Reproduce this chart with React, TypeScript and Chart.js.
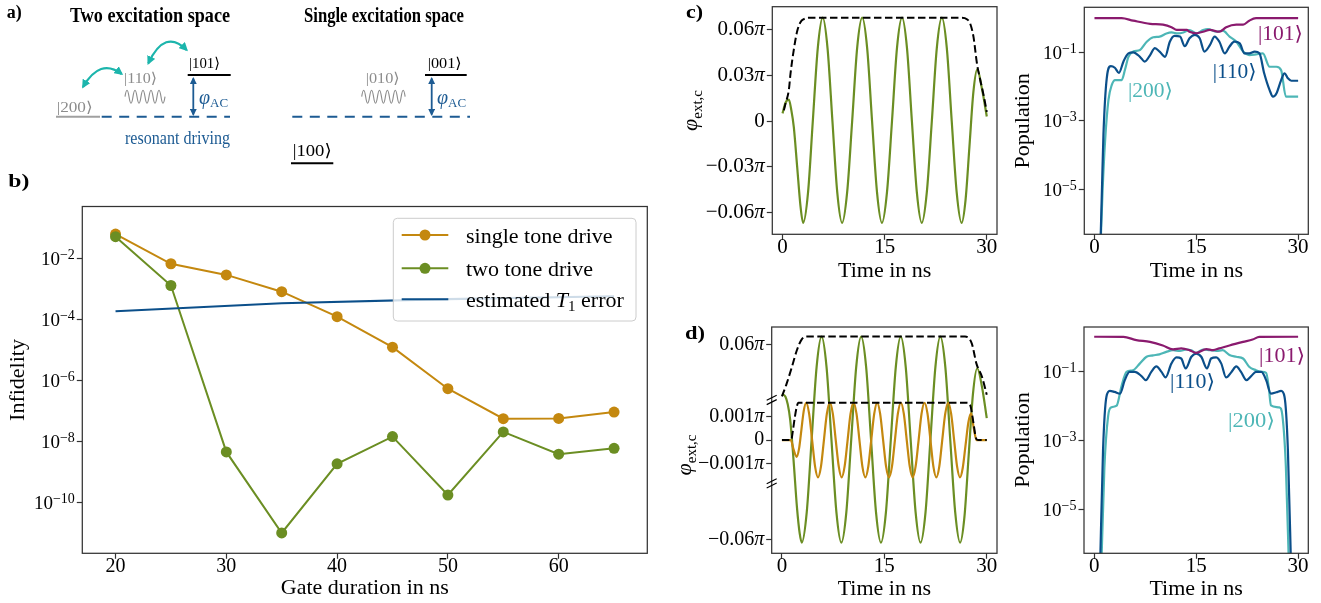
import React, { useEffect, useRef } from "react";
import { Chart, registerables } from "chart.js";

Chart.register(...registerables);

const SERIF = "'Liberation Serif', 'Times New Roman', 'DejaVu Serif', serif";
const PAGE_W = 1321;
const PAGE_H = 603;

const C_ORANGE = "#c4880f";
const C_GREEN = "#6b8e23";
const C_BLUE = "#0b4f8a";
const C_PURPLE = "#8a1a6e";
const C_TEAL = "#4db6b6";
const C_SPINE = "#333333";
const C_LEVEL_BLUE = "#1d5b93";
const C_GRAY = "#8c8c8c";
const C_CYAN = "#1cb5ac";

// ---------- panel b : infidelity vs gate duration ----------
const gateDurations = [20, 25, 30, 35, 40, 45, 50, 55, 60, 65];
const singleToneInfidelity = [6.1e-2, 6.5e-3, 2.8e-3, 7.9e-4, 1.2e-4, 1.2e-5, 5.2e-7, 5.4e-8, 5.5e-8, 8.9e-8];
const twoToneInfidelity = [5.0e-2, 1.26e-3, 4.4e-9, 9.7e-12, 1.8e-9, 1.4e-8, 1.7e-10, 2.0e-8, 3.7e-9, 5.8e-9];
const t1Durations = [20, 35, 50, 65];
const t1Error = [1.8e-4, 3.3e-4, 4.5e-4, 5.6e-4];
const gateTicks = [20, 30, 40, 50, 60];
const infidelityTicks = [1e-10, 1e-8, 1e-6, 1e-4, 1e-2];
const legendLabels = ["single tone drive", "two tone drive", "estimated T1 error"];

// ---------- panel c : two tone pulse ----------
const phaseTimeC = [0, 0.45, 0.93, 1.3, 1.66, 2.15, 2.64, 3.03, 3.75, 4.45, 5.18, 5.9, 6.61, 7.33, 8.04, 8.75, 9.49, 10.23, 10.96, 11.7, 12.43, 13.15, 13.88, 14.6, 15.34, 16.08, 16.81, 17.55, 18.28, 19.0, 19.73, 20.45, 21.19, 21.93, 22.66, 23.4, 24.13, 24.85, 25.58, 26.3, 26.88, 27.45, 28.03, 28.6, 29.3, 30];
const twoTonePhaseC = [0.005, 0.012, 0.014, 0.007, -0.004, -0.03, -0.056, -0.067, -0.047, 0.0, 0.048, 0.068, 0.048, 0.0, -0.047, -0.067, -0.047, 0.0, 0.048, 0.068, 0.048, 0.0, -0.047, -0.067, -0.047, 0.0, 0.048, 0.068, 0.048, 0.0, -0.047, -0.067, -0.047, 0.0, 0.048, 0.068, 0.048, 0.0, -0.047, -0.067, -0.052, -0.017, 0.019, 0.034, 0.021, 0.003];
const envTimeC = [0.2, 0.45, 0.93, 1.17, 1.66, 2.15, 2.64, 3.13, 3.86, 26.35, 27.08, 27.57, 28.06, 28.55, 29.04, 29.53, 30];
const envelopeC = [0.007, 0.0116, 0.0204, 0.031, 0.047, 0.059, 0.065, 0.067, 0.068, 0.068, 0.067, 0.064, 0.055, 0.038, 0.027, 0.017, 0.006];
const phaseTicksC = [-0.06, -0.03, 0, 0.03, 0.06];

// population, panel c
const popTime101C = [0, 4, 5.7, 8.2, 10.1, 11.35, 12.1, 13.6, 14.0, 15.0, 16.0, 17.0, 18.4, 19.4, 20.9, 21.9, 22.8, 23.8, 30];
const pop101C = [1.0, 0.99, 0.84, 0.68, 0.64, 0.54, 0.45, 0.45, 0.4, 0.36, 0.4, 0.45, 0.4, 0.54, 0.64, 0.64, 0.84, 0.99, 1.0];
const popTime200C = [0.83, 1.2, 1.57, 2.06, 2.55, 3.04, 4.0, 4.5, 5.0, 5.7, 6.7, 7.7, 8.66, 9.6, 10.6, 11.35, 12.3, 13.1, 14.0, 15.0, 16.0, 16.7, 18.0, 18.9, 19.9, 20.9, 21.9, 22.8, 23.8, 24.8, 25.8, 26.8, 27.5, 28.2, 28.7, 30];
const pop200C = [1e-7, 1e-5, 2.75e-4, 4.1e-3, 0.0112, 0.0155, 0.0155, 0.0316, 0.074, 0.105, 0.117, 0.204, 0.275, 0.288, 0.355, 0.38, 0.355, 0.38, 0.447, 0.359, 0.447, 0.479, 0.398, 0.427, 0.288, 0.204, 0.105, 0.083, 0.087, 0.093, 0.038, 0.038, 0.03, 0.0051, 0.0051, 0.0051];
const popTime110C = [0.83, 1.1, 1.32, 1.81, 2.4, 3.0, 3.6, 4.3, 5.0, 5.7, 6.7, 7.4, 8.2, 8.9, 9.6, 10.4, 11.1, 11.8, 12.6, 13.3, 14.0, 14.8, 15.5, 16.2, 17.0, 17.7, 18.4, 19.2, 19.9, 20.6, 21.4, 22.1, 22.8, 23.6, 24.3, 25.0, 25.8, 26.3, 26.8, 27.5, 28.0, 28.5, 29.0, 30];
const pop110C = [1e-7, 1e-5, 4.0e-4, 0.0178, 0.0398, 0.0355, 0.0251, 0.0562, 0.0933, 0.1, 0.0741, 0.0537, 0.0832, 0.132, 0.105, 0.0741, 0.204, 0.302, 0.288, 0.151, 0.257, 0.324, 0.257, 0.105, 0.162, 0.288, 0.204, 0.0933, 0.148, 0.204, 0.182, 0.0933, 0.0933, 0.105, 0.0933, 0.0245, 0.0079, 0.0051, 0.0063, 0.0155, 0.0245, 0.0174, 0.0148, 0.0148];

// ---------- panel d : two tone + single tone pulses ----------
const phaseTimeD = [0, 0.5, 1.2, 1.7, 2.2, 2.6, 2.9, 3.63, 4.35, 5.08, 5.8, 6.53, 7.25, 7.98, 8.7, 9.43, 10.15, 10.88, 11.6, 12.33, 13.05, 13.78, 14.5, 15.23, 15.95, 16.68, 17.4, 18.13, 18.85, 19.58, 20.3, 21.03, 21.75, 22.48, 23.2, 23.93, 24.65, 25.38, 26.1, 26.73, 27.35, 27.98, 28.6, 29.3, 30];
const twoTonePhaseD = [0.0294, 0.028, 0.014, -0.011, -0.04, -0.056, -0.0616, -0.0431, 0.0016, 0.0462, 0.0647, 0.0462, 0.0016, -0.0431, -0.0616, -0.0431, 0.0016, 0.0462, 0.0647, 0.0462, 0.0016, -0.0431, -0.0616, -0.0431, 0.0016, 0.0462, 0.0647, 0.0462, 0.0016, -0.0431, -0.0616, -0.0431, 0.0016, 0.0462, 0.0647, 0.0462, 0.0016, -0.0431, -0.0616, -0.0459, -0.0082, 0.0296, 0.0453, 0.034, 0.0147];
const envTimeD = [0, 0.7, 1.45, 2.2, 2.9, 3.6, 26.8, 27.8, 28.5, 29.3, 30];
const envelopeD = [0.028, 0.036, 0.046, 0.0565, 0.063, 0.0647, 0.0647, 0.0606, 0.048, 0.04, 0.029];
const singleTimeD = [0, 0.7, 1.3, 1.7, 2.15, 2.5, 2.85, 3.2, 3.55,
  3.98, 4.42, 4.85, 5.28, 5.72, 6.15, 6.58, 7.02, 7.45, 7.88, 8.32, 8.75, 9.18, 9.62, 10.05, 10.48,
  10.92, 11.35, 11.78, 12.22, 12.65, 13.08, 13.52, 13.95, 14.38, 14.82, 15.25, 15.68, 16.12, 16.55, 16.98, 17.42,
  17.85, 18.28, 18.72, 19.15, 19.58, 20.02, 20.45, 20.88, 21.32, 21.75, 22.18, 22.62, 23.05, 23.48, 23.92, 24.35,
  24.78, 25.22, 25.65, 26.08, 26.48, 26.89, 27.3, 27.7, 28.1, 28.5, 29.2, 30];
const singleTonePhaseD = [0, 0, 0, -0.0004, -0.00072, -0.00038, 0.00044, 0.00126, 0.0016,
  0.00113, 0, -0.00113, -0.0016, -0.00113, 0, 0.00113, 0.0016, 0.00113, 0, -0.00113, -0.0016, -0.00113, 0, 0.00113, 0.0016,
  0.00113, 0, -0.00113, -0.0016, -0.00113, 0, 0.00113, 0.0016, 0.00113, 0, -0.00113, -0.0016, -0.00113, 0, 0.00113, 0.0016,
  0.00113, 0, -0.00113, -0.0016, -0.00113, 0, 0.00113, 0.0016, 0.00113, 0, -0.00113, -0.0016, -0.00113, 0, 0.00113, 0.0016,
  0.00113, 0, -0.00113, -0.0016, -0.0012, -0.00023, 0.00074, 0.00114, 0.0005, 0, 0, 0];
const envTimeSingleD = [0, 1.35, 1.65, 1.9, 2.15, 2.4, 27.1, 27.57, 28.06, 28.4, 28.7, 30];
const envelopeSingleD = [0, 0, 0.0005, 0.001, 0.0014, 0.0016, 0.0016, 0.0015, 0.00072, 0.0001, 0, 0];
const phaseTicksLargeD = [-0.06, 0.06];
const phaseTicksSmallD = [-0.001, 0, 0.001];
const axisBreakValues = [0.00172, -0.00186];

// population, panel d
const popTime101D = [0, 4.3, 6.2, 8.2, 10.1, 11.6, 12.8, 14.0, 15.0, 16.5, 17.5, 18.4, 19.9, 21.9, 23.3, 24.3, 30];
const pop101D = [1.0, 0.99, 0.8, 0.71, 0.56, 0.43, 0.46, 0.41, 0.34, 0.44, 0.41, 0.46, 0.56, 0.71, 0.83, 0.99, 1.0];
const popTime200D = [1.0, 1.5, 2.05, 2.5, 3.3, 4.0, 4.75, 5.7, 6.7, 7.7, 8.66, 9.6, 10.6, 11.6, 12.6, 13.55, 14.3, 15.0, 16.0, 17.0, 18.0, 18.9, 19.9, 20.9, 21.9, 22.8, 23.8, 24.6, 25.3, 25.7, 26.0, 27.25, 27.7, 28.2, 28.7];
const pop200D = [1e-7, 1.58e-4, 5.0e-3, 8.9e-3, 0.01, 0.0355, 0.0955, 0.107, 0.166, 0.263, 0.288, 0.309, 0.363, 0.407, 0.389, 0.427, 0.407, 0.339, 0.427, 0.407, 0.389, 0.407, 0.295, 0.263, 0.234, 0.135, 0.107, 0.0955, 0.0891, 0.0316, 0.0102, 0.0089, 0.005, 1.7e-4, 1e-7];
const popTime110D = [0.83, 1.3, 1.8, 2.3, 3.0, 3.8, 4.5, 5.2, 6.0, 6.95, 7.6, 8.4, 9.15, 9.9, 10.5, 11.35, 12.1, 12.8, 13.45, 14.3, 15.0, 15.75, 16.6, 17.2, 17.95, 18.7, 19.4, 20.2, 20.9, 21.6, 22.4, 23.1, 23.8, 24.6, 25.3, 26.0, 26.8, 27.5, 28.0, 28.5, 29.0];
const pop110D = [1e-7, 5.1e-4, 0.0182, 0.0269, 0.0251, 0.0224, 0.055, 0.0955, 0.0955, 0.0724, 0.055, 0.0955, 0.138, 0.0955, 0.066, 0.166, 0.251, 0.234, 0.12, 0.263, 0.324, 0.263, 0.12, 0.234, 0.251, 0.166, 0.066, 0.0955, 0.138, 0.0955, 0.055, 0.0724, 0.0955, 0.0955, 0.055, 0.0224, 0.0245, 0.0269, 0.0182, 5.1e-4, 1e-7];

const timeTicks = [0, 15, 30];
const populationTicks = [1e-5, 1e-3, 1e-1];

// ---------- helpers ----------
const xy = (xs: number[], ys: number[]) => xs.map((x, i) => ({ x, y: ys[i] }));

const Y_AXIS_W = 80;
const X_AXIS_H = 40;
type Box = { L: number; T: number; R: number; B: number };
const layoutFor = (b: Box) => ({
  padding: { left: b.L - Y_AXIS_W, top: b.T, right: PAGE_W - b.R, bottom: PAGE_H - b.B - X_AXIS_H },
});
const zeroPad = (s: any) => {
  s.paddingTop = 0; s.paddingBottom = 0; s.paddingLeft = 0; s.paddingRight = 0;
};
const tickGrid = {
  display: true, drawOnChartArea: false, drawTicks: true, tickLength: 5.5, tickWidth: 1.2,
  tickColor: C_SPINE, color: C_SPINE,
};

function xAxis(min: number, max: number, ticks: number[], size: number, pad: number) {
  return {
    type: "linear", position: "bottom", min, max,
    afterBuildTicks: (s: any) => { s.ticks = ticks.map((v) => ({ value: v })); },
    afterFit: (s: any) => { s.height = X_AXIS_H; zeroPad(s); },
    grid: tickGrid, border: { display: false },
    ticks: {
      autoSkip: false, maxRotation: 0, minRotation: 0, padding: pad, color: "#000",
      font: { family: SERIF, size, lineHeight: 1 }, callback: (v: any) => String(v),
    },
  };
}
// linear phase axis: labels (with italic pi) are drawn by the decor plugin from the scale ticks
function yLinear(min: number, max: number, ticks: number[], width: number, weight: number) {
  return {
    type: "linear", position: "left", min, max, weight,
    afterBuildTicks: (s: any) => { s.ticks = ticks.map((v) => ({ value: v })); },
    afterFit: (s: any) => { s.width = width; zeroPad(s); },
    grid: tickGrid, border: { display: false },
    ticks: { autoSkip: false, display: false },
  };
}
function yLog(min: number, max: number, ticks: number[]) {
  return {
    type: "logarithmic", position: "left", min, max,
    afterBuildTicks: (s: any) => { s.ticks = ticks.map((v) => ({ value: v })); },
    afterFit: (s: any) => { s.width = Y_AXIS_W; zeroPad(s); },
    grid: tickGrid, border: { display: false },
    ticks: { autoSkip: false, padding: 2, callback: () => "" },
  };
}

function drawLogLabels(chart: any, id: string) {
  const s = chart.scales[id];
  const ctx = chart.ctx;
  ctx.save();
  ctx.fillStyle = "#000";
  ctx.textBaseline = "alphabetic";
  ctx.textAlign = "left";
  const xr = chart.chartArea.left - 7.5;
  for (const t of s.ticks) {
    const y = s.getPixelForValue(t.value);
    const e = Math.round(Math.log10(t.value));
    const sup = (e < 0 ? "\u2212" : "") + Math.abs(e);
    ctx.font = `14px ${SERIF}`;
    const ws = ctx.measureText(sup).width;
    ctx.font = `19px ${SERIF}`;
    const wb = ctx.measureText("10").width;
    ctx.fillText("10", xr - ws - wb, y + 6.5);
    ctx.font = `14px ${SERIF}`;
    ctx.fillText(sup, xr - ws, y + 0.5);
  }
  ctx.restore();
}

function drawPiLabels(chart: any, ids: string[], size: number) {
  const ctx = chart.ctx;
  const xr = chart.chartArea.left - 7.5;
  ctx.save();
  ctx.fillStyle = "#000";
  ctx.textBaseline = "middle";
  ctx.textAlign = "left";
  for (const id of ids) {
    const s = chart.scales[id];
    for (const t of s.ticks) {
      const v = t.value;
      const y = s.getPixelForValue(v);
      if (Math.abs(v) < 1e-12) {
        ctx.font = `${size}px ${SERIF}`;
        const w0 = ctx.measureText("0").width;
        ctx.fillText("0", xr - w0, y);
        continue;
      }
      const num = (v < 0 ? "\u2212" : "") + String(Math.abs(v));
      ctx.font = `italic ${size}px ${SERIF}`;
      const wp = ctx.measureText("\u03c0").width;
      ctx.font = `${size}px ${SERIF}`;
      const wn = ctx.measureText(num).width;
      ctx.fillText(num, xr - wp - wn, y);
      ctx.font = `italic ${size}px ${SERIF}`;
      ctx.fillText("\u03c0", xr - wp, y);
    }
  }
  ctx.restore();
}

function drawLegendB(chart: any) {
  const ctx = chart.ctx;
  const a = chart.chartArea;
  const bw = 242.7, bh = 102.7;
  const bx = a.right - 11.3 - bw, by = a.top + 11.8;
  ctx.save();
  ctx.beginPath();
  ctx.roundRect(bx, by, bw, bh, 4);
  ctx.fillStyle = "rgba(255,255,255,0.8)";
  ctx.fill();
  ctx.strokeStyle = "#cccccc";
  ctx.lineWidth = 1;
  ctx.stroke();
  const rowY = [by + 16.7, by + 50, by + 81];
  const ds = chart.data.datasets;
  rowY.forEach((ry, i) => {
    const d = ds[i];
    ctx.strokeStyle = d.borderColor;
    ctx.lineWidth = 2;
    ctx.beginPath();
    ctx.moveTo(bx + 8.4, ry);
    ctx.lineTo(bx + 55, ry);
    ctx.stroke();
    if (d.pointRadius > 0) {
      ctx.fillStyle = d.borderColor;
      ctx.beginPath();
      ctx.arc(bx + 31.7, ry, 5.5, 0, Math.PI * 2);
      ctx.fill();
    }
  });
  ctx.fillStyle = "#000";
  ctx.textBaseline = "alphabetic";
  const tx = bx + 72.7;
  ctx.font = `22px ${SERIF}`;
  ctx.fillText(legendLabels[0], tx, rowY[0] + 7.5);
  ctx.fillText(legendLabels[1], tx, rowY[1] + 7.5);
  let x = tx;
  const by3 = rowY[2] + 7.5;
  ctx.font = `22px ${SERIF}`;
  ctx.fillText("estimated ", x, by3);
  x += ctx.measureText("estimated ").width;
  ctx.font = `italic 22px ${SERIF}`;
  ctx.fillText("T", x, by3);
  x += ctx.measureText("T").width;
  ctx.font = `15px ${SERIF}`;
  ctx.fillText("1", x, by3 + 4);
  x += ctx.measureText("1").width;
  ctx.font = `22px ${SERIF}`;
  ctx.fillText(" error", x, by3);
  ctx.restore();
}

function drawBreaks(chart: any) {
  const ctx = chart.ctx;
  const s = chart.scales.y2;
  const x = chart.chartArea.left;
  ctx.save();
  ctx.strokeStyle = "#000";
  ctx.lineWidth = 1.2;
  for (const v of axisBreakValues) {
    const y = s.getPixelForValue(v);
    for (const d of [-2.2, 2.2]) {
      ctx.beginPath();
      ctx.moveTo(x - 5, y + d + 2.5);
      ctx.lineTo(x + 5, y + d - 2.5);
      ctx.stroke();
    }
  }
  ctx.restore();
}

function decor(opts: { logAxis?: string; piAxes?: string[]; piSize?: number; legend?: boolean; breaks?: boolean }) {
  return {
    id: "decor",
    afterDatasetsDraw(chart: any) {
      const { ctx, chartArea: a } = chart;
      ctx.save();
      ctx.strokeStyle = C_SPINE;
      ctx.lineWidth = 1.25;
      ctx.strokeRect(a.left, a.top, a.right - a.left, a.bottom - a.top);
      ctx.restore();
      if (opts.logAxis) drawLogLabels(chart, opts.logAxis);
      if (opts.piAxes) drawPiLabels(chart, opts.piAxes, opts.piSize || 21);
      if (opts.breaks) drawBreaks(chart);
      if (opts.legend) drawLegendB(chart);
    },
  };
}

const baseOptions = (box: Box, scales: any) => ({
  responsive: false,
  animation: false,
  events: [],
  devicePixelRatio: 1,
  layout: layoutFor(box),
  scales,
  plugins: { legend: { display: false }, tooltip: { enabled: false }, title: { display: false } },
});

const smoothLine = (data: any, color: string, width: number, order: number, extra: any = {}) => ({
  data, borderColor: color, backgroundColor: color, borderWidth: width, pointRadius: 0,
  cubicInterpolationMode: "monotone", fill: false, order, borderJoinStyle: "round", ...extra,
});

// ---------- chart builders ----------
function buildInfidelity() {
  const box = { L: 82.3, T: 206.5, R: 647.3, B: 553.3 };
  return {
    type: "line",
    data: {
      datasets: [
        { label: legendLabels[0], data: xy(gateDurations, singleToneInfidelity), borderColor: C_ORANGE, backgroundColor: C_ORANGE,
          pointBackgroundColor: C_ORANGE, pointBorderColor: C_ORANGE, pointRadius: 5.5, pointBorderWidth: 0, borderWidth: 2, tension: 0, order: 3 },
        { label: legendLabels[1], data: xy(gateDurations, twoToneInfidelity), borderColor: C_GREEN, backgroundColor: C_GREEN,
          pointBackgroundColor: C_GREEN, pointBorderColor: C_GREEN, pointRadius: 5.5, pointBorderWidth: 0, borderWidth: 2, tension: 0, order: 2 },
        { label: legendLabels[2], data: xy(t1Durations, t1Error), borderColor: C_BLUE, backgroundColor: C_BLUE,
          pointRadius: 0, borderWidth: 2.2, tension: 0, order: 1 },
      ],
    },
    options: baseOptions(box, {
      x: xAxis(17, 68, gateTicks, 20, -2),
      y: yLog(2.09e-12, 0.49, infidelityTicks),
    }),
    plugins: [decor({ logAxis: "y", legend: true })],
  };
}

function buildPhaseC() {
  const box = { L: 772.3, T: 6.7, R: 997, B: 234.3 };
  return {
    type: "line",
    data: {
      datasets: [
        smoothLine(xy(phaseTimeC, twoTonePhaseC), C_GREEN, 2.2, 2),
        smoothLine(xy(envTimeC, envelopeC), "#000", 2, 1, { borderDash: [7.5, 3.5] }),
      ],
    },
    options: baseOptions(box, {
      x: xAxis(-1.5, 31.5, timeTicks, 21, -2.5),
      y: yLinear(-0.07454, 0.0752, phaseTicksC, Y_AXIS_W, 0),
    }),
    plugins: [decor({ piAxes: ["y"], piSize: 21 })],
  };
}

function buildPopulationC() {
  const box = { L: 1084.3, T: 7.3, R: 1308.3, B: 234.3 };
  return {
    type: "line",
    data: {
      datasets: [
        smoothLine(xy(popTime200C, pop200C), C_TEAL, 2.2, 3),
        smoothLine(xy(popTime110C, pop110C), C_BLUE, 2.2, 2),
        smoothLine(xy(popTime101C, pop101C), C_PURPLE, 2.2, 1),
      ],
    },
    options: baseOptions(box, {
      x: xAxis(-1.5, 31.5, timeTicks, 21, -2.5),
      y: yLog(4.9e-7, 2.06, populationTicks),
    }),
    plugins: [decor({ logAxis: "y" })],
  };
}

function buildPhaseD() {
  const box = { L: 771.7, T: 327, R: 997, B: 553.3 };
  return {
    type: "line",
    data: {
      datasets: [
        smoothLine(xy(phaseTimeD, twoTonePhaseD), C_GREEN, 2.2, 4, { yAxisID: "y" }),
        smoothLine(xy(singleTimeD, singleTonePhaseD), C_ORANGE, 2.2, 3, { yAxisID: "y2" }),
        smoothLine(xy(envTimeD, envelopeD), "#000", 2, 2, { yAxisID: "y", borderDash: [7.5, 3.5] }),
        smoothLine(xy(envTimeSingleD, envelopeSingleD), "#000", 2, 1, { yAxisID: "y2", borderDash: [7.5, 3.5] }),
      ],
    },
    options: baseOptions(box, {
      x: xAxis(-1.5, 31.5, timeTicks, 21, -2.5),
      y: yLinear(-0.0682, 0.0706, phaseTicksLargeD, Y_AXIS_W, 1),
      y2: yLinear(-0.00486, 0.00485, phaseTicksSmallD, 0, 0),
    }),
    plugins: [decor({ piAxes: ["y", "y2"], piSize: 20, breaks: true })],
  };
}

function buildPopulationD() {
  const box = { L: 1084, T: 327, R: 1308.3, B: 553.3 };
  return {
    type: "line",
    data: {
      datasets: [
        smoothLine(xy(popTime200D, pop200D), C_TEAL, 2.2, 3),
        smoothLine(xy(popTime110D, pop110D), C_BLUE, 2.2, 2),
        smoothLine(xy(popTime101D, pop101D), C_PURPLE, 2.2, 1),
      ],
    },
    options: baseOptions(box, {
      x: xAxis(-1.5, 31.5, timeTicks, 21, -2.5),
      y: yLog(5.2e-7, 1.92, populationTicks),
    }),
    plugins: [decor({ logAxis: "y" })],
  };
}

function ChartCanvas({ build }: { build: () => any }) {
  const ref = useRef<HTMLCanvasElement | null>(null);
  useEffect(() => {
    const chart = new Chart(ref.current as HTMLCanvasElement, build());
    return () => chart.destroy();
  }, []);
  return (
    <canvas
      ref={ref}
      width={PAGE_W}
      height={PAGE_H}
      style={{ position: "absolute", left: 0, top: 0, width: PAGE_W, height: PAGE_H }}
    />
  );
}

// ---------- SVG overlay: diagram (panel a), labels, axis titles ----------
const Ket = ({ x, y, s, fill, len, size = 15 }: any) => (
  <text x={x} y={y} fill={fill} fontSize={size} textLength={len} lengthAdjust="spacingAndGlyphs">{s}</text>
);
const wavePath = (x0: number, y: number, n: number, step: number, amp: number) => {
  let d = `M${x0},${y} q${step / 2},${-amp * 2} ${step},0`;
  for (let i = 1; i < n; i++) d += ` t${step},0`;
  return d;
};
const Phi = ({ x, y, fill }: any) => (
  <text x={x} y={y} fill={fill} fontSize={20}>
    <tspan fontStyle="italic">{"\u03c6"}</tspan>
    <tspan fontSize={13} dy={2.5}>AC</tspan>
  </text>
);
const DoubleArrow = ({ x }: any) => (
  <line x1={x} y1={78.5} x2={x} y2={114.5} stroke={C_LEVEL_BLUE} strokeWidth={1.8}
    markerStart="url(#blueHead)" markerEnd="url(#blueHead)" />
);
const PhiExt = ({ x, y }: any) => (
  <text transform={`translate(${x},${y}) rotate(-90)`} textAnchor="middle" fontSize={22}>
    <tspan fontStyle="italic">{"\u03c6"}</tspan>
    <tspan fontSize={15} dy={4.5}>ext,c</tspan>
  </text>
);
const Rot = ({ x, y, s }: any) => (
  <text transform={`translate(${x},${y}) rotate(-90)`} textAnchor="middle" fontSize={22}>{s}</text>
);
const Hz = ({ x, y, s }: any) => (
  <text x={x} y={y} textAnchor="middle" fontSize={22}>{s}</text>
);

function Overlay() {
  return (
    <svg
      width={PAGE_W}
      height={PAGE_H}
      style={{ position: "absolute", left: 0, top: 0, pointerEvents: "none" }}
      fontFamily="'Liberation Serif', 'Times New Roman', 'DejaVu Serif', serif"
    >
      <defs>
        <marker id="cyanHead" viewBox="0 0 10 10" refX="8" refY="5" markerWidth="4" markerHeight="4" orient="auto-start-reverse">
          <path d="M0,0 L10,5 L0,10 z" fill={C_CYAN} />
        </marker>
        <marker id="blueHead" viewBox="0 0 10 10" refX="8" refY="5" markerWidth="4" markerHeight="4" orient="auto-start-reverse">
          <path d="M0,0 L10,5 L0,10 z" fill={C_LEVEL_BLUE} />
        </marker>
      </defs>

      {/* panel letters */}
      <text x={6.7} y={17.5} fontSize={18} fontWeight="bold" textLength={15} lengthAdjust="spacingAndGlyphs">a)</text>
      <text x={8.3} y={186.7} fontSize={19} fontWeight="bold" textLength={21} lengthAdjust="spacingAndGlyphs">b)</text>
      <text x={686} y={17.5} fontSize={18} fontWeight="bold" textLength={17} lengthAdjust="spacingAndGlyphs">c)</text>
      <text x={685} y={338.5} fontSize={18} fontWeight="bold" textLength={20} lengthAdjust="spacingAndGlyphs">d)</text>

      {/* panel a headers */}
      <text x={70} y={21.7} fontSize={21} fontWeight="bold" textLength={160} lengthAdjust="spacingAndGlyphs">Two excitation space</text>
      <text x={304} y={21.7} fontSize={21} fontWeight="bold" textLength={160} lengthAdjust="spacingAndGlyphs">Single excitation space</text>

      {/* two excitation space */}
      <Ket x={56.7} y={111.7} s={"|200\u27e9"} fill={C_GRAY} len={36} />
      <line x1={56} y1={116.7} x2={100} y2={116.7} stroke="#a0a0a0" strokeWidth={2} />
      <Ket x={124} y={83.3} s={"|110\u27e9"} fill={C_GRAY} len={33} />
      <path d={wavePath(125, 96.7, 10, 4, 6.5)} stroke={C_GRAY} strokeWidth={1.1} fill="none" />
      <Ket x={189} y={68.3} s={"|101\u27e9"} fill="#000" len={31} />
      <line x1={187.7} y1={75} x2={230.7} y2={75} stroke="#000" strokeWidth={2} />
      <line x1={101.7} y1={116.7} x2={230} y2={116.7} stroke={C_LEVEL_BLUE} strokeWidth={2} strokeDasharray="10 7.5" />
      <DoubleArrow x={193.3} />
      <Phi x={199} y={104} fill={C_LEVEL_BLUE} />
      <text x={125} y={144} fontSize={18} fill={C_LEVEL_BLUE} textLength={105} lengthAdjust="spacingAndGlyphs">resonant driving</text>
      <path d="M83,87 Q100,57.5 121.7,74" stroke={C_CYAN} strokeWidth={2.2} fill="none" markerStart="url(#cyanHead)" markerEnd="url(#cyanHead)" />
      <path d="M148.3,63.3 Q165,28 186.7,50" stroke={C_CYAN} strokeWidth={2.2} fill="none" markerStart="url(#cyanHead)" markerEnd="url(#cyanHead)" />

      {/* single excitation space */}
      <Ket x={365.7} y={83.3} s={"|010\u27e9"} fill={C_GRAY} len={34} />
      <path d={wavePath(361.7, 96.7, 11, 3.95, 6.5)} stroke={C_GRAY} strokeWidth={1.1} fill="none" />
      <Ket x={427.7} y={68.3} s={"|001\u27e9"} fill="#000" len={34} />
      <line x1={425} y1={75} x2={466.7} y2={75} stroke="#000" strokeWidth={2} />
      <line x1={292.3} y1={116.7} x2={470} y2={116.7} stroke={C_LEVEL_BLUE} strokeWidth={2} strokeDasharray="10 7.5" />
      <DoubleArrow x={431.7} />
      <Phi x={437} y={104} fill={C_LEVEL_BLUE} />
      <Ket x={292.7} y={156} s={"|100\u27e9"} fill="#000" len={39} size={17} />
      <line x1={291} y1={163.3} x2={333.3} y2={163.3} stroke="#000" strokeWidth={2} />

      {/* axis titles */}
      <Rot x={24} y={380} s="Infidelity" />
      <Hz x={364.8} y={594} s="Gate duration in ns" />
      <PhiExt x={697} y={110.5} />
      <PhiExt x={691} y={455} />
      <Rot x={1028.5} y={120.8} s="Population" />
      <Rot x={1028.5} y={440} s="Population" />
      <Hz x={884.7} y={276.7} s="Time in ns" />
      <Hz x={1196.3} y={276.7} s="Time in ns" />
      <Hz x={884.3} y={595} s="Time in ns" />
      <Hz x={1196.1} y={595} s="Time in ns" />

      {/* population state labels */}
      <Ket x={1258} y={40} s={"|101\u27e9"} fill={C_PURPLE} len={45} size={20} />
      <Ket x={1212.7} y={78.3} s={"|110\u27e9"} fill={C_BLUE} len={44} size={20} />
      <Ket x={1128} y={96.7} s={"|200\u27e9"} fill={C_TEAL} len={45} size={20} />
      <Ket x={1259} y={361.7} s={"|101\u27e9"} fill={C_PURPLE} len={46} size={20} />
      <Ket x={1170} y={388.3} s={"|110\u27e9"} fill={C_BLUE} len={45} size={20} />
      <Ket x={1228} y={426.7} s={"|200\u27e9"} fill={C_TEAL} len={47} size={20} />
    </svg>
  );
}

export default function App() {
  return (
    <div
      style={{
        position: "absolute", left: 0, top: 0, width: PAGE_W, height: PAGE_H,
        background: "#fff", overflow: "hidden",
      }}
    >
      <ChartCanvas build={buildInfidelity} />
      <ChartCanvas build={buildPhaseC} />
      <ChartCanvas build={buildPopulationC} />
      <ChartCanvas build={buildPhaseD} />
      <ChartCanvas build={buildPopulationD} />
      <Overlay />
    </div>
  );
}
